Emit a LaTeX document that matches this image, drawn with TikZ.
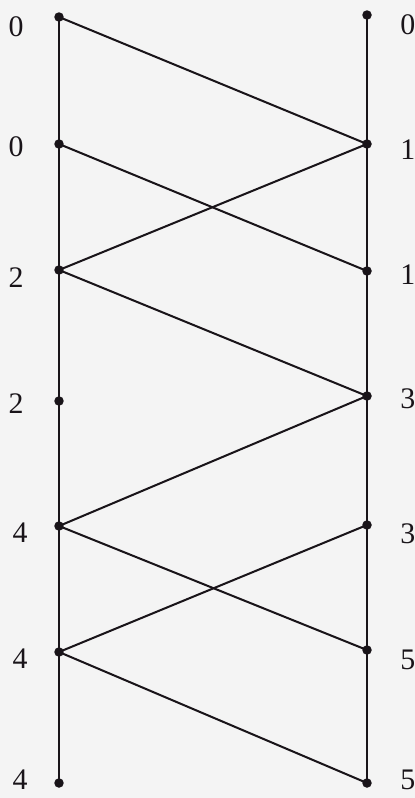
\documentclass[tikz,border=0pt]{standalone}
\usepackage{fontspec}
\setmainfont{Liberation Serif}
\usetikzlibrary{positioning,calc}
\definecolor{bggray}{RGB}{244,244,244}
\definecolor{inkblack}{RGB}{25,20,25}

\begin{document}
\begin{tikzpicture}[
  x=0.02cm, y=-0.02cm,
  dot/.style={circle, fill=inkblack, inner sep=0pt, minimum size=0.19cm},
  edge/.style={draw=inkblack, line width=1.15pt},
  num/.style={font=\fontsize{17}{20}\selectfont, text=inkblack, inner sep=0pt}
]
% Background and margins
\fill[bggray] (0,0) rectangle (415,798);
\useasboundingbox (0,0) rectangle (415,798);

% Left column
\node[dot] (L0) at (59,17)  {};
\node[dot] (L1) at (59,144) {};
\node[dot] (L2) at (59,270) {};
\node[dot] (L3) at (59,401) {};
\node[dot] (L4) at (59,526) {};
\node[dot] (L5) at (59,652) {};
\node[dot] (L6) at (59,783) {};

% Right column
\node[dot] (R0) at (367,15)  {};
\node[dot] (R1) at (367,144) {};
\node[dot] (R2) at (367,271) {};
\node[dot] (R3) at (367,396) {};
\node[dot] (R4) at (367,525) {};
\node[dot] (R5) at (367,650) {};
\node[dot] (R6) at (367,783) {};

% Labels
\node[num, left=0.6cm of L0, yshift=-0.2cm] (a0) {0};
\node[num, left=0.6cm of L1, yshift=-0.06cm] (a1) {0};
\node[num, left=0.6cm of L2, yshift=-0.16cm] (a2) {2};
\node[num, left=0.6cm of L3, yshift=-0.06cm] (a3) {2};
\node[num, left=0.52cm of L4, yshift=-0.14cm] (a4) {4};
\node[num, left=0.52cm of L5, yshift=-0.14cm] (a5) {4};
\node[num, left=0.52cm of L6, yshift=0.06cm] (a6) {4};
\node[num, right=0.56cm of R0, yshift=-0.2cm] (b0) {0};
\node[num, right=0.56cm of R1, yshift=-0.12cm] (b1) {1};
\node[num, right=0.56cm of R2, yshift=-0.08cm] (b2) {1};
\node[num, right=0.56cm of R3, yshift=-0.06cm] (b3) {3};
\node[num, right=0.56cm of R4, yshift=-0.18cm] (b4) {3};
\node[num, right=0.56cm of R5, yshift=-0.2cm] (b5) {5};
\node[num, right=0.56cm of R6, yshift=0.06cm] (b6) {5};

% Vertical lines
\draw[edge] (L0.center) -- (L6.center);
\draw[edge] (R0.center) -- (R6.center);

% Crossing lines
\draw[edge] (L0.center) -- (R1.center);
\draw[edge] (L1.center) -- (R2.center);
\draw[edge] (L2.center) -- (R1.center);
\draw[edge] (L2.center) -- (R3.center);
\draw[edge] (L4.center) -- (R3.center);
\draw[edge] (L4.center) -- (R5.center);
\draw[edge] (L5.center) -- (R4.center);
\draw[edge] (L5.center) -- (R6.center);

\end{tikzpicture}
\end{document}
